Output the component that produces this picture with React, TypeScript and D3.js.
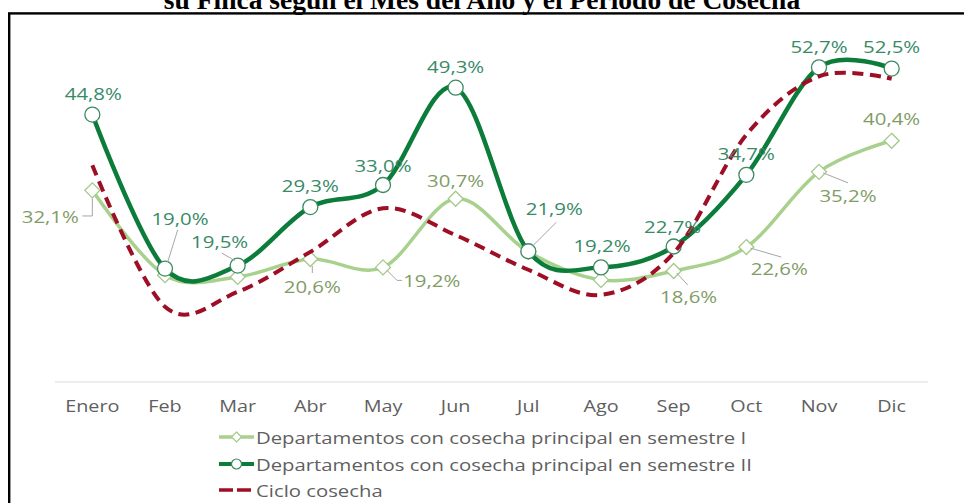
import React from "react";
import * as d3 from "d3";

const months = ["Enero", "Feb", "Mar", "Abr", "May", "Jun", "Jul", "Ago", "Sep", "Oct", "Nov", "Dic"];
const semestreI = [32.1, 17.9, 17.6, 20.6, 19.2, 30.7, 21.8, 17.1, 18.6, 22.6, 35.2, 40.4];
const semestreII = [44.8, 19.0, 19.5, 29.3, 33.0, 49.3, 21.9, 19.2, 22.7, 34.7, 52.7, 52.5];
const cicloCosecha = [36.3, 12.6, 15.1, 21.8, 29.1, 24.6, 18.8, 14.6, 21.6, 41.4, 51.2, 50.8];
const showLabelI = [true, false, false, true, true, true, false, false, true, true, true, true];
const legendNames = [
  "Departamentos con cosecha principal en semestre I",
  "Departamentos con cosecha principal en semestre II",
  "Ciclo cosecha",
];
const titleText = "su Finca según el Mes del Año y el Período de Cosecha";

// label layout (offsets relative to marker)
const offII: [number, number][] = [
  [1, -14.5], [15, -43.6], [-18, -17.6], [0, -15], [0, -13], [0, -14.7],
  [26, -36], [1, -15.4], [-1, -13.5], [0, -14.8], [0, -14.4], [0, -15.6],
];
const leaderII: ([number, number][] | null)[] = [
  null, [[12.7, -38.6], [2.7, -6.6]], [[-16, -12.6], [-3, -5]], null, null, null,
  [[28, -29], [4, -5]], null, null, null, null, null,
];
const offI: [number, number][] = [
  [-42, 32.6], [0, 0], [0, 0], [2, 34], [48.7, 19.6], [0, -11.7],
  [0, 0], [0, 0], [15, 32], [33, 28], [29, 30], [0, -15.8],
];
const leaderI: ([number, number][] | null)[] = [
  [[-10, 25.6], [0, 25.6], [0, 8]], null, null, [[2, 7], [2, 14]], [[4, 3], [14, 13], [19, 13]], null,
  null, null, [[3, 2], [14, 14]], [[4, 1], [35, 10]], [[4, 1], [29, 11]], null,
];

const fmt = (v: number) => v.toFixed(1).replace(".", ",") + "%";

const W = 964, H = 503;
const SX = 1.2;
const FONT = "'Open Sans', sans-serif";

export default function App() {
  const x = d3.scaleBand<string>().domain(months).range([56, 928]);
  const cx = (m: string) => (x(m) as number) + x.bandwidth() / 2;
  const y = d3.scaleLinear().domain([0, 60]).range([382, 382 - 60 * 5.97]);

  const line = d3
    .line<number>()
    .x((_, i) => cx(months[i]))
    .y((v) => y(v))
    .curve(d3.curveCardinal.tension(0));

  const darkC = "#0b7c3a";
  const lightC = "#a9d18e";
  const redC = "#9e0f26";
  const darkLab = "#378a66";
  const lightLab = "#7f9c66";
  const leadC = "#a6a6a6";
  const gray = "#5f5f5f";

  const diamond = (px: number, py: number, r = 7.5) =>
    `M${px},${py - r}L${px + r},${py}L${px},${py + r}L${px - r},${py}Z`;

  const sText = (key: string, tx: number, ty: number, s: string, fill: string, size: number, anchor = "middle", sx = SX) => (
    <text
      key={key}
      transform={`translate(${tx},${ty}) scale(${sx},1)`}
      textAnchor={anchor}
      fontFamily={FONT}
      fontSize={size}
      fill={fill}
    >
      {s}
    </text>
  );

  const legendY = [438, 465, 491];

  return (
    <svg width={W} height={H} style={{ position: "absolute", left: 0, top: 0, background: "#fff" }}>
      <rect x={0} y={0} width={W} height={H} fill="#fff" />
      <text x={482} y={9} textAnchor="middle" fontFamily="'Liberation Serif', serif" fontWeight="bold" fontSize={27.5} fill="#000">
        {titleText}
      </text>
      <rect x={9.2} y={13.4} width={1100} height={700} fill="none" stroke="#000" strokeWidth={2.4} />

      {/* axis line */}
      <line x1={55} x2={928} y1={382} y2={382} stroke="#e6e6e6" strokeWidth={1.5} />
      {months.map((m) => sText("ax" + m, cx(m), 412, m, gray, 16.5))}

      {/* series I */}
      <path d={line(semestreI) || ""} fill="none" stroke={lightC} strokeWidth={3.5} strokeLinejoin="round" />
      {semestreI.map((v, i) => (
        <path key={"dI" + i} d={diamond(cx(months[i]), y(v))} fill="#fff" stroke="#a3c98a" strokeWidth={1.3} />
      ))}

      {/* series II */}
      <path d={line(semestreII) || ""} fill="none" stroke={darkC} strokeWidth={4.5} strokeLinejoin="round" />
      {semestreII.map((v, i) => (
        <circle key={"cII" + i} cx={cx(months[i])} cy={y(v)} r={7.5} fill="#fff" stroke="#3b8a62" strokeWidth={1.3} />
      ))}

      {/* ciclo */}
      <path d={line(cicloCosecha) || ""} fill="none" stroke={redC} strokeWidth={4} strokeDasharray="11 6.5" />

      {/* leaders */}
      {leaderII.map((pts, i) =>
        pts ? (
          <polyline
            key={"lII" + i}
            points={pts.map(([dx, dy]) => `${cx(months[i]) + dx},${y(semestreII[i]) + dy}`).join(" ")}
            fill="none"
            stroke={leadC}
            strokeWidth={1}
          />
        ) : null
      )}
      {leaderI.map((pts, i) =>
        pts ? (
          <polyline
            key={"lI" + i}
            points={pts.map(([dx, dy]) => `${cx(months[i]) + dx},${y(semestreI[i]) + dy}`).join(" ")}
            fill="none"
            stroke={leadC}
            strokeWidth={1}
          />
        ) : null
      )}

      {/* labels */}
      {semestreII.map((v, i) =>
        sText("tII" + i, cx(months[i]) + offII[i][0], y(v) + offII[i][1], fmt(v), darkLab, 17)
      )}
      {semestreI.map((v, i) =>
        showLabelI[i] ? sText("tI" + i, cx(months[i]) + offI[i][0], y(v) + offI[i][1], fmt(v), lightLab, 17) : null
      )}

      {/* legend */}
      <g>
        <line x1={219} x2={254} y1={legendY[0] - 1} y2={legendY[0] - 1} stroke={lightC} strokeWidth={3.5} />
        <path d={diamond(236.5, legendY[0] - 1, 5)} fill="#fff" stroke="#a3c98a" strokeWidth={1.2} />
        <line x1={219} x2={254} y1={legendY[1] - 1} y2={legendY[1] - 1} stroke={darkC} strokeWidth={4} />
        <circle cx={236.5} cy={legendY[1] - 1} r={5} fill="#fff" stroke="#3b8a62" strokeWidth={1.2} />
        <line x1={219} x2={253} y1={legendY[2] - 1} y2={legendY[2] - 1} stroke={redC} strokeWidth={3.5} strokeDasharray="14 4" />
        {legendNames.map((n, i) => sText("lg" + i, 256, legendY[i] + 6, n, gray, 16, "start", 1.27))}
      </g>
    </svg>
  );
}
